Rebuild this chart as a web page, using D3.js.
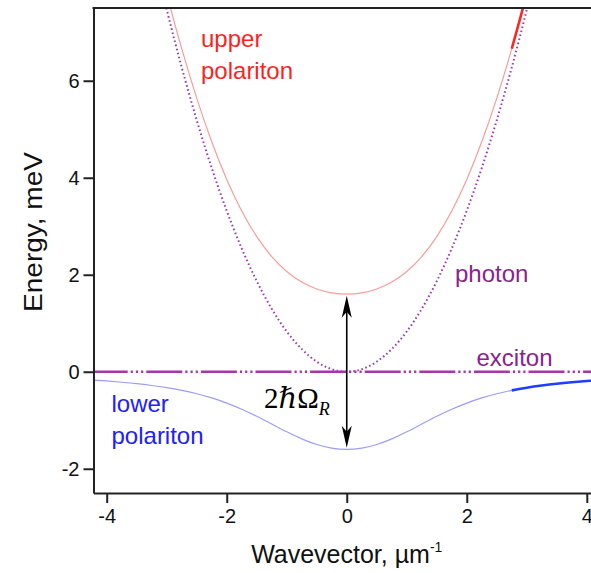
<!DOCTYPE html>
<html>
<head>
<meta charset="utf-8">
<script src="https://cdn.jsdelivr.net/npm/d3@7"></script>
<style>
  html, body { margin: 0; padding: 0; background: #fff; }
  svg { display: block; }
  .tick text { font-family: "Liberation Sans", Arial, sans-serif; font-size: 20px; fill: #111; }
  .lbl { font-family: "Liberation Sans", Arial, sans-serif; font-size: 24px; }
</style>
</head>
<body>
<svg id="chart" width="591" height="573"></svg>
<script>
// Wavevector samples (µm^-1)
const kNear = [-3.25, -3, -2.75, -2.5, -2.25, -2, -1.75, -1.5, -1.25, -1, -0.75, -0.5, -0.25, 0,
               0.25, 0.5, 0.75, 1, 1.25, 1.5, 1.75, 2, 2.25, 2.5, 2.75, 3, 3.25];
const kAll = [-4.25, -4, -3.75, -3.5, -3.25, -3, -2.75, -2.5, -2.25, -2, -1.75, -1.5, -1.25, -1, -0.75, -0.5, -0.25, 0,
              0.25, 0.5, 0.75, 1, 1.25, 1.5, 1.75, 2, 2.25, 2.5, 2.75, 3, 3.25, 3.5, 3.75, 4, 4.25];

// Energies (meV)
const photonE = [8.767, 7.47, 6.277, 5.188, 4.202, 3.32, 2.542, 1.868, 1.297, 0.83, 0.467, 0.208, 0.052, 0,
                 0.052, 0.208, 0.467, 0.83, 1.297, 1.868, 2.542, 3.32, 4.202, 5.188, 6.277, 7.47, 8.767];
const upperE = [9.05, 7.798, 6.661, 5.642, 4.742, 3.966, 3.314, 2.786, 2.375, 2.068, 1.85, 1.707, 1.626, 1.6,
                1.626, 1.707, 1.85, 2.068, 2.375, 2.786, 3.314, 3.966, 4.742, 5.642, 6.661, 7.798, 9.05];
const lowerE = [-0.169, -0.19, -0.216, -0.246, -0.283, -0.328, -0.384, -0.454, -0.54, -0.646, -0.772, -0.919, -1.078,
                -1.238, -1.383, -1.5, -1.574, -1.6,
                -1.574, -1.5, -1.383, -1.238, -1.078, -0.919, -0.772, -0.646, -0.54, -0.454, -0.384, -0.328, -0.283,
                -0.246, -0.216, -0.19, -0.169];
const excitonK = [-4.25, 4.25];
const excitonE = [0, 0];

// Branch segments drawn bold (k from this value upward)
const boldFrom = 2.75;

const xTicks = [-4, -2, 0, 2, 4];
const yTicks = [-2, 0, 2, 4, 6];

const svg = d3.select("#chart");
const pLeft = 93.5, pRight = 600, pTop = 8, pBottom = 493;

const x = d3.scaleLinear().domain([-4.22, 4.22]).range([pLeft, pRight]);
const y = d3.scaleLinear().domain([-2.5, 7.5]).range([pBottom, pTop]);

svg.append("defs").append("clipPath").attr("id", "plotClip")
  .append("rect").attr("x", pLeft).attr("y", pTop).attr("width", pRight - pLeft).attr("height", pBottom - pTop);

const plot = svg.append("g").attr("clip-path", "url(#plotClip)");

const line = d3.line().x(d => x(d[0])).y(d => y(d[1])).curve(d3.curveNatural);
const pairs = (ks, es) => ks.map((k, i) => [k, es[i]]);

// exciton level
plot.append("path")
  .attr("d", line(pairs(excitonK, excitonE)))
  .attr("fill", "none").attr("stroke", "#a535a8").attr("stroke-width", 2.4)
  .attr("stroke-dasharray", "36,3,2.2,3,2.2,3,2.2,3");

// photon dispersion
plot.append("path")
  .attr("d", line(pairs(kNear, photonE)))
  .attr("fill", "none").attr("stroke", "#9c3fb3").attr("stroke-width", 2)
  .attr("stroke-dasharray", "1.6,2.6");

// upper polariton
const upper = pairs(kNear, upperE);
plot.append("path").attr("d", line(upper))
  .attr("fill", "none").attr("stroke", "#ff9a9a").attr("stroke-width", 1.2);
plot.append("path").attr("d", line(upper.filter(d => d[0] >= boldFrom)))
  .attr("fill", "none").attr("stroke", "#ff2626").attr("stroke-width", 2.6);

// lower polariton
const lower = pairs(kAll, lowerE);
plot.append("path").attr("d", line(lower))
  .attr("fill", "none").attr("stroke", "#9c9cff").attr("stroke-width", 1.2);
plot.append("path").attr("d", line(lower.filter(d => d[0] >= boldFrom)))
  .attr("fill", "none").attr("stroke", "#1f3dff").attr("stroke-width", 2.6);

// Rabi splitting arrow at k = 0
const i0 = kNear.indexOf(0), j0 = kAll.indexOf(0);
const ax = x(0), aTop = y(upperE[i0]) + 1.5, aBot = y(lowerE[j0]) - 1.5;
svg.append("line").attr("x1", ax).attr("x2", ax).attr("y1", aTop + 10).attr("y2", aBot - 10)
  .attr("stroke", "#000").attr("stroke-width", 1.6);
svg.append("path")
  .attr("d", `M${ax},${aTop} L${ax - 5},${aTop + 22} L${ax},${aTop + 16} L${ax + 5},${aTop + 22} Z`)
  .attr("fill", "#000");
svg.append("path")
  .attr("d", `M${ax},${aBot} L${ax - 5},${aBot - 22} L${ax},${aBot - 16} L${ax + 5},${aBot - 22} Z`)
  .attr("fill", "#000");

// axes
const fmt = d => String(d);
const gx = svg.append("g").attr("transform", `translate(0,${pBottom})`)
  .call(d3.axisBottom(x).tickValues(xTicks).tickFormat(fmt).tickSize(10).tickSizeOuter(0).tickPadding(6));
const gy = svg.append("g").attr("transform", `translate(${pLeft},0)`)
  .call(d3.axisLeft(y).tickValues(yTicks).tickFormat(fmt).tickSize(10).tickSizeOuter(0).tickPadding(4));
[gx, gy].forEach(g => {
  g.select(".domain").attr("stroke", "#222").attr("stroke-width", 2);
  g.selectAll(".tick line").attr("stroke", "#222").attr("stroke-width", 2);
});
gy.selectAll(".tick text").attr("dy", "0.35em");
svg.append("line").attr("x1", pLeft - 1).attr("x2", pRight).attr("y1", pTop).attr("y2", pTop)
  .attr("stroke", "#222").attr("stroke-width", 2);

// axis titles
svg.append("text")
  .attr("transform", `translate(41.5,232) rotate(-90)`)
  .attr("text-anchor", "middle")
  .attr("textLength", 160).attr("lengthAdjust", "spacingAndGlyphs")
  .style("font-family", "'Liberation Sans', Arial, sans-serif").style("font-size", "25px").style("fill", "#111")
  .text("Energy, meV");

const xt = svg.append("text")
  .attr("x", x(0)).attr("y", 563).attr("text-anchor", "middle")
  .style("font-family", "'Liberation Sans', Arial, sans-serif").style("font-size", "25px").style("fill", "#111");
xt.append("tspan").text("Wavevector, µm");
xt.append("tspan").attr("dy", -11).style("font-size", "14px").text("-1");

// curve labels
const label = (tx, ty, color, lines) => {
  const t = svg.append("text").attr("class", "lbl").attr("x", tx).attr("y", ty).style("fill", color);
  lines.forEach((s, i) => t.append("tspan").attr("x", tx).attr("dy", i ? 32.5 : 0).text(s));
};
label(201, 46.7, "#ff1f1f", ["upper", "polariton"]);
label(111.5, 411.5, "#2020ff", ["lower", "polariton"]);
label(455, 281.5, "#8a238f", ["photon"]);
label(476.5, 366, "#8a238f", ["exciton"]);

// 2ħΩ_R
const rt = svg.append("text").attr("x", 264).attr("y", 408)
  .style("font-family", "'Liberation Serif', 'Times New Roman', 'DejaVu Serif', serif")
  .style("font-size", "29px").style("fill", "#000");
rt.append("tspan").text("2");
rt.append("tspan").style("font-style", "italic").text("ℏ");
rt.append("tspan").text("Ω");
rt.append("tspan").attr("dy", 7).style("font-style", "italic").style("font-size", "18px").text("R");
</script>
</body>
</html>
